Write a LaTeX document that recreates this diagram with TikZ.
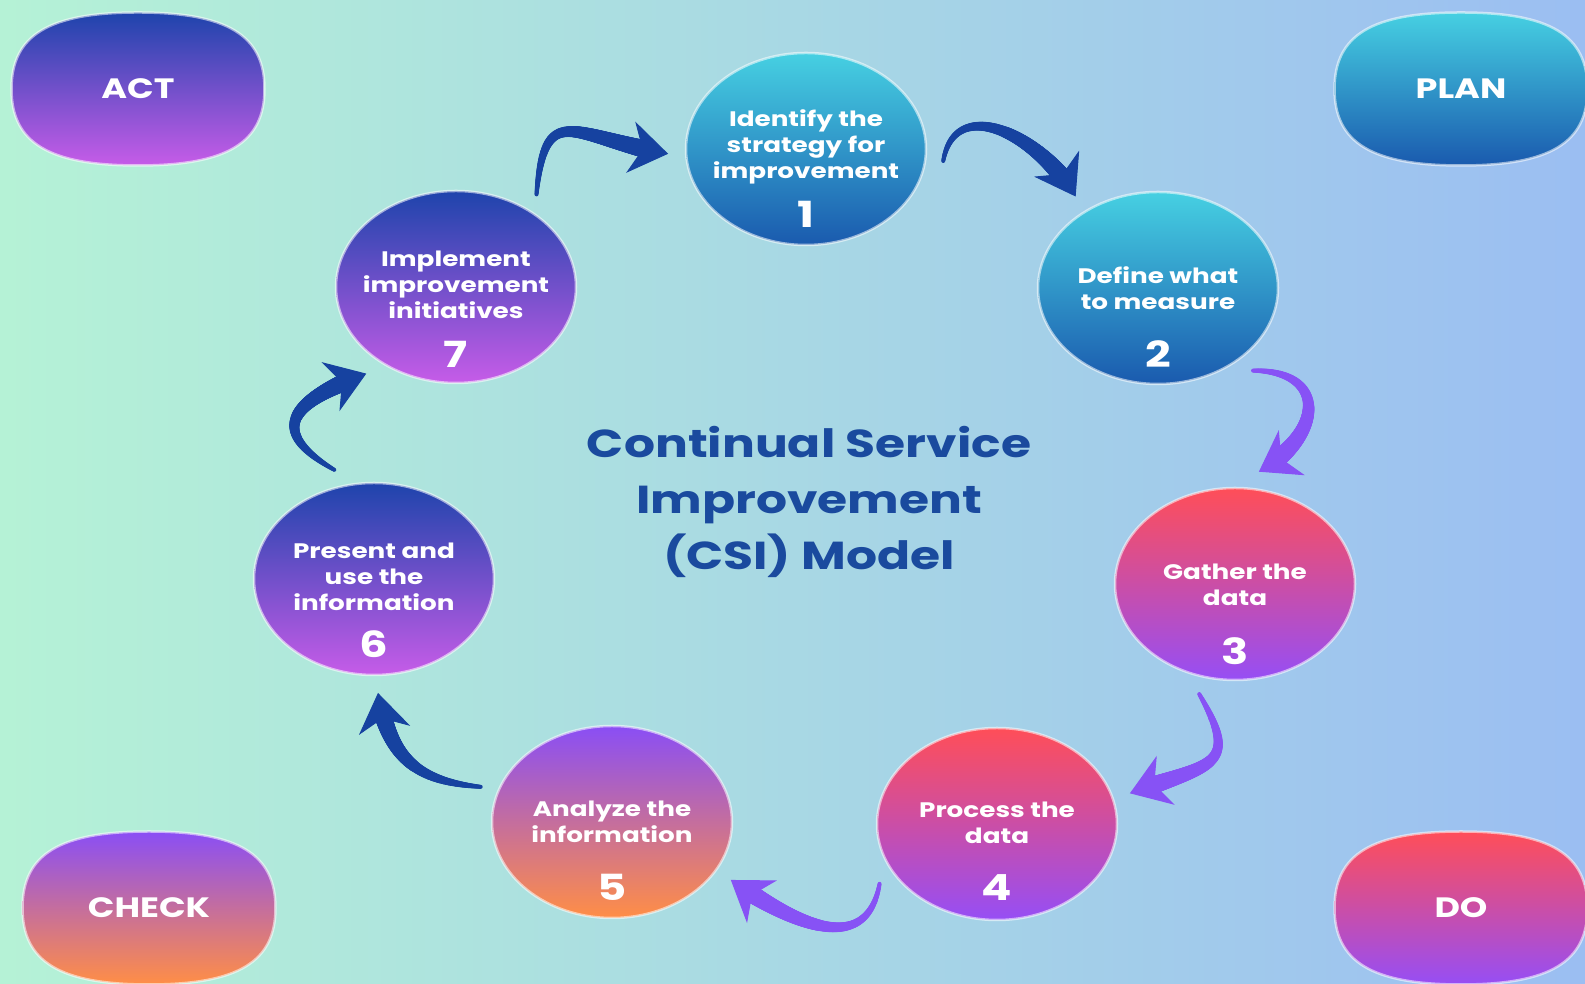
\documentclass[tikz,border=0pt]{standalone}
\usepackage{fontspec}
\setmainfont{Poppins}[FakeStretch=1.25]
\usetikzlibrary{shapes.geometric,arrows.meta,decorations.markings}

\definecolor{bgL}{RGB}{181,242,214}
\definecolor{bgM}{RGB}{176,221,234}
\definecolor{bgR}{RGB}{155,190,242}
\definecolor{actT}{RGB}{30,68,172}
\definecolor{actB}{RGB}{198,92,232}
\definecolor{planT}{RGB}{70,208,226}
\definecolor{planB}{RGB}{26,90,174}
\definecolor{checkT}{RGB}{138,78,245}
\definecolor{checkB}{RGB}{255,142,70}
\definecolor{doT}{RGB}{255,78,88}
\definecolor{doB}{RGB}{150,78,245}
\definecolor{titleblue}{RGB}{26,74,158}
\definecolor{arrblue}{RGB}{22,66,160}
\definecolor{arrpurple}{RGB}{135,82,245}

\tikzset{
  bubble/.style={ellipse, minimum width=240pt, minimum height=192pt, inner sep=0pt,
    outer sep=18pt, draw=white, draw opacity=0.55, line width=2.5pt},
  pillbox/.style={rectangle, minimum width=253pt, minimum height=153pt, inner sep=0pt, outer sep=0pt},
  pilledge/.style={draw=white, draw opacity=0.55, line width=2.5pt},
  pilltext/.style={text=white, inner sep=0pt, font=\bfseries\fontsize{28}{28}\selectfont},
  actfill/.style={top color=actT, bottom color=actB},
  planfill/.style={top color=planT, bottom color=planB},
  checkfill/.style={top color=checkT, bottom color=checkB},
  dofill/.style={top color=doT, bottom color=doB},
  ctext/.style={text=white, font=\bfseries\fontsize{21}{26}\selectfont, align=center, inner sep=0pt},
  cnum/.style={text=white, font=\bfseries\fontsize{36}{36}\selectfont, inner sep=0pt},
  flow/.style={draw=#1, fill=none, line width=1pt, -{Stealth[length=38pt,width=52pt,inset=12pt]},
    postaction={decorate}, decoration={markings,
    mark=between positions 0 and -22pt step 0.8pt with {%
      \pgfmathsetmacro\rr{2+8*\pgfkeysvalueof{/pgf/decoration/mark info/distance from start}/\pgfdecoratedpathlength}%
      \fill[#1] (0,0) circle[radius=\rr pt];}}},
}

\begin{document}
\begin{tikzpicture}[x=1pt,y=1pt]
\useasboundingbox (0,0) rectangle (1585,984);
\shade[left color=bgL, middle color=bgM, right color=bgR] (0,0) rectangle (1585,984);

% corner labels (squircle shapes)
\node[pillbox] (act) at (138,895) {};
\node[pillbox] (plan) at (1461,895) {};
\node[pillbox] (check) at (149,76) {};
\node[pillbox] (do) at (1461,76) {};
\shade[actfill, pilledge] (act.east) .. controls +(0,54) and +(89,0) .. (act.north)
  .. controls +(-89,0) and +(0,54) .. (act.west) .. controls +(0,-54) and +(-89,0) .. (act.south)
  .. controls +(89,0) and +(0,-54) .. (act.east) -- cycle;
\shade[planfill, pilledge] (plan.east) .. controls +(0,54) and +(89,0) .. (plan.north)
  .. controls +(-89,0) and +(0,54) .. (plan.west) .. controls +(0,-54) and +(-89,0) .. (plan.south)
  .. controls +(89,0) and +(0,-54) .. (plan.east) -- cycle;
\shade[checkfill, pilledge] (check.east) .. controls +(0,54) and +(89,0) .. (check.north)
  .. controls +(-89,0) and +(0,54) .. (check.west) .. controls +(0,-54) and +(-89,0) .. (check.south)
  .. controls +(89,0) and +(0,-54) .. (check.east) -- cycle;
\shade[dofill, pilledge] (do.east) .. controls +(0,54) and +(89,0) .. (do.north)
  .. controls +(-89,0) and +(0,54) .. (do.west) .. controls +(0,-54) and +(-89,0) .. (do.south)
  .. controls +(89,0) and +(0,-54) .. (do.east) -- cycle;
\node[pilltext] (actl) at (act.center) {ACT};
\node[pilltext] (planl) at (plan.center) {PLAN};
\node[pilltext] (checkl) at (check.center) {CHECK};
\node[pilltext] (dol) at (do.center) {DO};

% title
\node[text=titleblue, font=\bfseries\fontsize{39}{55.6}\selectfont, align=center] (title) at (809,482)
  {Continual Service\\Improvement\\(CSI) Model};

% bubbles
\node[bubble, planfill] (c1) at (806,835) {};
\node[bubble, planfill] (c2) at (1158,696) {};
\node[bubble, dofill] (c3) at (1235,400) {};
\node[bubble, dofill] (c4) at (997,160) {};
\node[bubble, checkfill] (c5) at (612,162) {};
\node[bubble, actfill] (c6) at (374,405) {};
\node[bubble, actfill] (c7) at (456,697) {};

\node[ctext] (t1) at ([yshift=2pt]c1.center) {Identify the\\strategy for\\improvement};
\node[ctext] (t2) at ([yshift=0pt]c2.center) {Define what\\to measure};
\node[ctext] (t3) at ([yshift=-1pt]c3.center) {Gather the\\data};
\node[ctext] (t4) at ([yshift=1pt]c4.center) {Process the\\data};
\node[ctext] (t5) at ([yshift=0pt]c5.center) {Analyze the\\information};
\node[ctext] (t6) at ([yshift=2pt]c6.center) {Present and\\use the\\information};
\node[ctext] (t7) at ([yshift=2pt]c7.center) {Implement\\improvement\\initiatives};

\node[cnum] (n1) at ([yshift=-65pt]c1.center) {1};
\node[cnum] (n2) at ([yshift=-66pt]c2.center) {2};
\node[cnum] (n3) at ([yshift=-67pt]c3.center) {3};
\node[cnum] (n4) at ([yshift=-64pt]c4.center) {4};
\node[cnum] (n5) at ([yshift=-65pt]c5.center) {5};
\node[cnum] (n6) at ([yshift=-65pt]c6.center) {6};
\node[cnum] (n7) at ([yshift=-67pt]c7.center) {7};

% arrows
\draw[flow=arrblue] (c7.49) to[out=85,in=170,looseness=1.8] (c1.182);
\draw[flow=arrblue] (c1.355) to[out=80,in=120,looseness=1.3] (c2.132);
\draw[flow=arrpurple] (c2.319) to[out=0,in=30,looseness=1.9] (c3.78);
\draw[flow=arrpurple] (c3.252) to[out=-60,in=20,looseness=1.8] (c4.13);
\draw[flow=arrpurple] (c4.207) to[out=-100,in=-35,looseness=1.3] (c5.334);
\draw[flow=arrblue] (c5.165) to[out=175,in=-80,looseness=1.2] (c6.272);
\draw[flow=arrblue] (c6.110) to[out=150,in=200,looseness=2] (c7.224);
\end{tikzpicture}
\end{document}
